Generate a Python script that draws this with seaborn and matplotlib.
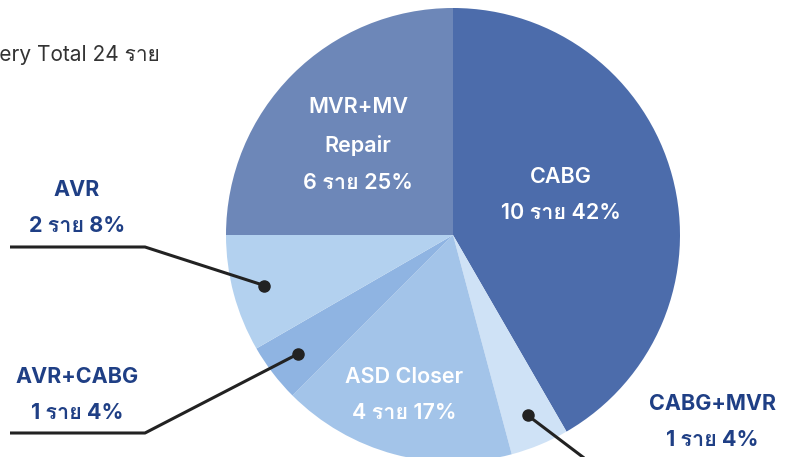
import matplotlib
matplotlib.use("Agg")
import matplotlib.pyplot as plt
import numpy as np
import seaborn as sns
from matplotlib import font_manager
from matplotlib.ft2font import FT2Font

# data
procedures = ["CABG", "CABG+MVR", "ASD Closer", "AVR+CABG", "AVR", "MVR+MV Repair"]
cases = [10, 1, 4, 1, 2, 6]
label_lines = ["CABG", "CABG+MVR", "ASD Closer", "AVR+CABG", "AVR", "MVR+MV\nRepair"]
colors = ["#4c6cab", "#cfe2f6", "#a3c4e9", "#8fb4e2", "#b3d1ef", "#6d87b8"]
total_label = "Surgery Total 24 ราย"

sns.set_theme(style="white")


def find_thai_family():
    for f in font_manager.fontManager.ttflist:
        try:
            if 0x0E23 in FT2Font(f.fname).get_charmap():
                return f.name
        except Exception:
            continue
    return None


thai = find_thai_family()
families = ["Inter"] + ([thai] if thai else []) + ["DejaVu Sans"]
plt.rcParams["font.family"] = families

W, H = 811, 457
fig = plt.figure(figsize=(W / 100, H / 100), dpi=100)
ax = fig.add_axes([0, 0, 1, 1])

cx, cy, r = 453, H - 235, 227
wedges, _ = ax.pie(cases, colors=colors, startangle=90, counterclock=False,
                   center=(cx, cy), radius=r, wedgeprops=dict(linewidth=0),
                   frame=True)
ax.set_xlim(0, W)
ax.set_ylim(0, H)
ax.set_aspect("equal")
ax.axis("off")

total = sum(cases)
pct = [round(c / total * 100) for c in cases]
texts = {p: f"{l}\n{c} ราย {q}%" for p, l, c, q in zip(procedures, label_lines, cases, pct)}

navy = "#1f3f85"
fs, ls = 15.5, 2.05
# labels inside the big slices
inside = {"CABG": (561, 195), "MVR+MV Repair": (358, 145), "ASD Closer": (404, 395)}
for p, (x, y) in inside.items():
    ax.text(x, H - y, texts[p], color="white", fontsize=fs, fontweight="semibold",
            ha="center", va="center", linespacing=ls)

# small slices: text outside with leader line to a dot
outside = {
    "AVR": ((77, 208), [(10, 247), (145, 247)]),
    "AVR+CABG": ((77, 395), [(10, 433), (145, 433)]),
    "CABG+MVR": ((712, 422), [(600, 470)]),
}
for w, p in zip(wedges, procedures):
    if p not in outside:
        continue
    (tx, ty), path = outside[p]
    ang = np.deg2rad((w.theta1 + w.theta2) / 2)
    dx, dy = cx + 0.86 * r * np.cos(ang), cy + 0.86 * r * np.sin(ang)
    xs = [q[0] for q in path] + [dx]
    ys = [H - q[1] for q in path] + [dy]
    ax.plot(xs, ys, color="#222222", lw=2.2, solid_capstyle="butt", clip_on=False)
    ax.plot(dx, dy, "o", color="#222222", ms=8)
    ax.text(tx, H - ty, texts[p], color=navy, fontsize=fs, fontweight="bold",
            ha="center", va="center", linespacing=ls)

ax.text(160, H - 61, total_label, color="#333333", fontsize=15, ha="right", va="baseline")

fig.savefig("out.png", dpi=100)
